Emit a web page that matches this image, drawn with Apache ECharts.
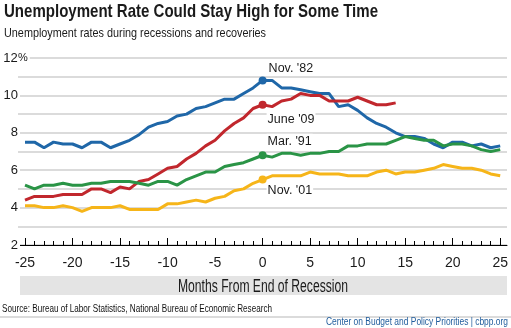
<!DOCTYPE html>
<html>
<head>
<meta charset="utf-8">
<script src="https://cdn.jsdelivr.net/npm/echarts@6/dist/echarts.min.js"></script>
<style>
html,body{margin:0;padding:0;background:#fff;}
#chart{width:511px;height:328px;}
</style>
</head>
<body>
<div id="chart"></div>
<script>
// ---- data ----
const months = [-25,-24,-23,-22,-21,-20,-19,-18,-17,-16,-15,-14,-13,-12,-11,-10,-9,-8,-7,-6,-5,-4,-3,-2,-1,0,
  1,2,3,4,5,6,7,8,9,10,11,12,13,14,15,16,17,18,19,20,21,22,23,24,25];
const seriesNames = ["Nov. '82", "June '09", "Mar. '91", "Nov. '01"];
const nov82 = [7.5,7.5,7.2,7.5,7.4,7.4,7.2,7.5,7.5,7.2,7.4,7.6,7.9,8.3,8.5,8.6,8.9,9.0,9.3,9.4,9.6,9.8,9.8,10.1,10.4,10.8,
  10.8,10.4,10.4,10.3,10.2,10.1,10.1,9.4,9.5,9.2,8.8,8.5,8.3,8.0,7.8,7.8,7.7,7.4,7.2,7.5,7.5,7.3,7.4,7.2,7.3];
const june09 = [4.4,4.6,4.6,4.6,4.7,4.7,4.7,5.0,5.0,4.8,5.1,5.0,5.4,5.5,5.8,6.1,6.2,6.6,6.9,7.3,7.6,8.1,8.5,8.8,9.3,9.5,
  9.4,9.7,9.8,10.1,10.0,10.0,9.7,9.7,9.7,9.9,9.7,9.5,9.5,9.6,null,null,null,null,null,null,null,null,null,null,null];
const mar91 = [5.2,5.0,5.2,5.2,5.3,5.2,5.2,5.3,5.3,5.4,5.4,5.4,5.3,5.2,5.4,5.4,5.2,5.5,5.7,5.9,5.9,6.2,6.3,6.4,6.6,6.8,
  6.7,6.9,6.9,6.8,6.9,6.9,7.0,7.0,7.3,7.3,7.4,7.4,7.4,7.6,7.8,7.7,7.6,7.6,7.3,7.4,7.4,7.3,7.1,7.0,7.1];
const nov01 = [4.1,4.1,4.0,4.0,4.1,4.0,3.8,4.0,4.0,4.0,4.1,3.9,3.9,3.9,3.9,4.2,4.2,4.3,4.4,4.3,4.5,4.6,4.9,5.0,5.3,5.5,
  5.7,5.7,5.7,5.7,5.9,5.8,5.8,5.8,5.7,5.7,5.7,5.9,6.0,5.8,5.9,5.9,6.0,6.1,6.3,6.2,6.1,6.1,6.0,5.8,5.7];
const yTicks = [2,4,6,8,10,12];
const xTickLabels = [-25,-20,-15,-10,-5,0,5,10,15,20,25];

const FONT = '"Liberation Sans",Arial,sans-serif';
const colors = ['#1f67a8', '#c1272d', '#2a9446', '#f6b519'];
const labelOffsets = [[9,-8],[8,19],[8,-10],[8,15]];

// measure text to condense it horizontally (the original uses a condensed face)
const mctx = document.createElement('canvas').getContext('2d');
function fitScale(text, font, target) {
  mctx.font = font;
  return target / mctx.measureText(text).width;
}
function condensedText(text, x, y, size, weight, fill, target, align) {
  const font = weight + ' ' + size + 'px "Liberation Sans"';
  return {
    type: 'text', x: x, y: y, scaleX: fitScale(text, font, target), scaleY: 1,
    style: { text: text, fontFamily: FONT, fontSize: size, fontWeight: weight, fill: fill,
      align: align || 'left', verticalAlign: 'middle' }
  };
}

function buildSeries(name, values, idx) {
  const data = months.map((m, i) => {
    const v = values[i];
    if (v === null) return [m, null];
    if (m === 0) {
      return {
        value: [m, v],
        symbol: 'circle',
        symbolSize: 8,
        label: {
          show: true,
          formatter: name,
          position: labelOffsets[idx],
          align: 'left',
          verticalAlign: 'middle',
          fontFamily: FONT,
          fontSize: 12.5,
          color: '#1a1a1a',
          backgroundColor: '#fff',
          padding: [1, 1]
        }
      };
    }
    return { value: [m, v], symbol: 'none' };
  });
  return {
    name: name,
    type: 'line',
    xAxisIndex: 1,
    yAxisIndex: 1,
    data: data,
    showSymbol: true,
    symbol: 'none',
    connectNulls: false,
    lineStyle: { color: colors[idx], width: 3 },
    itemStyle: { color: colors[idx] },
    emphasis: { disabled: true },
    z: 3 + idx
  };
}

const chart = echarts.init(document.getElementById('chart'), null, { renderer: 'canvas' });
const option = {
  animation: false,
  backgroundColor: '#fff',
  grid: [
    { left: 18, right: 4, top: 58, bottom: 83 },
    { left: 25, right: 9, top: 58, bottom: 83 }
  ],
  xAxis: [
    { gridIndex: 0, type: 'value', min: 0, max: 1, axisLine: { show: true, lineStyle: { color: '#000', width: 1 } },
      axisTick: { show: false }, axisLabel: { show: false }, splitLine: { show: false } },
    { gridIndex: 1, type: 'value', min: -25, max: 25, interval: 5,
      axisLine: { show: false },
      axisTick: { show: true, inside: true, length: 7, lineStyle: { color: '#000', width: 1 } },
      minorTick: { show: true, splitNumber: 5, length: 4, lineStyle: { color: '#000', width: 1 } },
      axisLabel: { show: true, margin: 11, fontFamily: FONT, fontSize: 14, color: '#1a1a1a',
        formatter: v => xTickLabels.includes(v) ? String(v) : '' },
      splitLine: { show: false } }
  ],
  yAxis: [
    { gridIndex: 0, type: 'value', min: 2, max: 12, interval: 1,
      axisLine: { show: false }, axisTick: { show: false },
      splitLine: { show: true, lineStyle: { color: '#cfcfcf', width: 1.5 } },
      axisLabel: { show: true, align: 'left', margin: 15, fontFamily: FONT, fontSize: 13, color: '#1a1a1a',
        backgroundColor: '#fff', padding: [0, 2, 0, 0],
        formatter: v => yTicks.includes(v) ? ('{n|' + v + '}' + (v === 12 ? '{p|%}' : '')) : '',
        rich: { n: { width: 15, align: 'right', fontFamily: FONT, fontSize: 13, color: '#1a1a1a' },
                p: { fontFamily: FONT, fontSize: 11, color: '#1a1a1a' } } } },
    { gridIndex: 1, type: 'value', min: 2, max: 12, interval: 1, show: false }
  ],
  series: [
    buildSeries(seriesNames[0], nov82, 0),
    buildSeries(seriesNames[1], june09, 1),
    buildSeries(seriesNames[2], mar91, 2),
    buildSeries(seriesNames[3], nov01, 3),
    { type: 'line', xAxisIndex: 1, yAxisIndex: 1, data: [], clip: false, silent: true,
      markLine: { silent: true, symbol: 'none', label: { show: false },
        lineStyle: { color: '#000', type: 'dotted', width: 1 },
        data: [[{ coord: [0, 12.3] }, { coord: [0, 2] }]] }, z: 1 }
  ],
  graphic: [
    condensedText('Unemployment Rate Could Stay High for Some Time', 4, 12, 19, 'bold', '#1a1a1a', 374),
    condensedText('Unemployment rates during recessions and recoveries', 4, 33, 13.5, 'normal', '#1a1a1a', 262),
    { type: 'rect', x: 20, y: 276, shape: { width: 487, height: 19 }, style: { fill: '#e4e4e4' }, z: 0 },
    Object.assign(condensedText('Months From End of Recession', 263, 287, 18, 'normal', '#1a1a1a', 170, 'center'), { z: 1 }),
    condensedText('Source: Bureau of Labor Statistics, National Bureau of Economic Research', 2, 309.5, 10.5, 'normal', '#111', 270),
    { type: 'rect', x: 0, y: 316.5, shape: { width: 511, height: 1 }, style: { fill: '#b8b8b8' } },
    condensedText('Center on Budget and Policy Priorities | cbpp.org', 508, 322, 10.5, 'normal', '#1f5c9c', 182, 'right')
  ]
};
chart.setOption(option);
</script>
</body>
</html>
